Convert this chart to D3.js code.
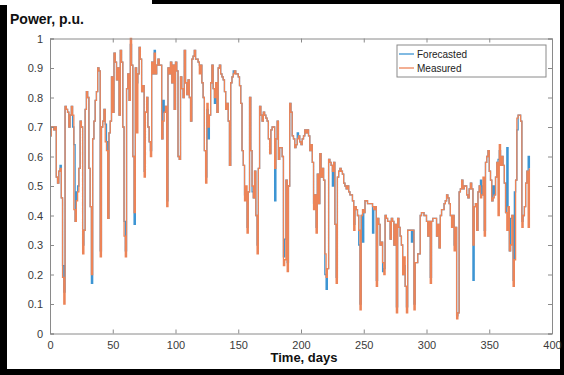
<!DOCTYPE html>
<html>
<head>
<meta charset="utf-8">
<script src="https://cdn.jsdelivr.net/npm/d3@7"></script>
<style>
  html, body { margin: 0; padding: 0; background: #fff; }
  svg { display: block; font-family: "Liberation Sans", Arial, sans-serif; }
</style>
</head>
<body>
<div id="chart"></div>
<script>
// daily power values, p.u.
const measured = [
  0.67, 0.70, 0.70, 0.69, 0.70, 0.53, 0.51, 0.55, 0.56, 0.46,
  0.19, 0.10, 0.77, 0.76, 0.75, 0.70, 0.74, 0.77, 0.74, 0.42,
  0.38, 0.45, 0.48, 0.56, 0.72, 0.70, 0.27, 0.35, 0.76, 0.82,
  0.80, 0.56, 0.43, 0.20, 0.66, 0.72, 0.79, 0.82, 0.90, 0.89,
  0.26, 0.70, 0.72, 0.76, 0.65, 0.62, 0.39, 0.68, 0.72, 0.87,
  0.75, 0.95, 0.92, 0.86, 0.90, 0.74, 0.96, 0.92, 0.70, 0.33,
  0.26, 0.83, 0.88, 0.79, 1.00, 0.91, 0.60, 0.41, 0.90, 0.68,
  0.88, 0.97, 0.93, 0.82, 0.84, 0.53, 0.75, 0.80, 0.70, 0.65,
  0.60, 0.92, 0.88, 0.95, 0.88, 0.91, 0.93, 0.91, 0.91, 0.66,
  0.72, 0.75, 0.77, 0.43, 0.90, 0.88, 0.92, 0.85, 0.91, 0.76,
  0.92, 0.89, 0.60, 0.59, 0.87, 0.83, 0.80, 0.96, 0.85, 0.81,
  0.86, 0.80, 0.72, 0.93, 0.94, 0.96, 0.93, 0.93, 0.92, 0.88,
  0.91, 0.85, 0.80, 0.62, 0.51, 0.78, 0.70, 0.74, 0.85, 0.91,
  0.83, 0.80, 0.85, 0.75, 0.90, 0.91, 0.88, 0.87, 0.86, 0.82,
  0.76, 0.78, 0.72, 0.57, 0.85, 0.87, 0.88, 0.89, 0.88, 0.88,
  0.87, 0.84, 0.78, 0.62, 0.57, 0.45, 0.50, 0.34, 0.48, 0.80,
  0.62, 0.50, 0.46, 0.55, 0.40, 0.27, 0.56, 0.77, 0.74, 0.72,
  0.75, 0.74, 0.73, 0.72, 0.66, 0.61, 0.69, 0.70, 0.70, 0.56,
  0.66, 0.72, 0.59, 0.63, 0.63, 0.60, 0.23, 0.25, 0.52, 0.21,
  0.50, 0.78, 0.75, 0.67, 0.66, 0.63, 0.64, 0.66, 0.67, 0.65,
  0.64, 0.66, 0.67, 0.69, 0.68, 0.69, 0.67, 0.62, 0.64, 0.58,
  0.42, 0.47, 0.34, 0.54, 0.44, 0.61, 0.53, 0.56, 0.52, 0.27,
  0.19, 0.22, 0.59, 0.58, 0.57, 0.55, 0.58, 0.37, 0.17, 0.53,
  0.55, 0.56, 0.55, 0.54, 0.51, 0.50, 0.49, 0.50, 0.48, 0.47,
  0.47, 0.45, 0.35, 0.43, 0.42, 0.40, 0.35, 0.08, 0.40, 0.42,
  0.41, 0.45, 0.45, 0.44, 0.44, 0.44, 0.44, 0.43, 0.42, 0.43,
  0.16, 0.39, 0.37, 0.30, 0.31, 0.24, 0.20, 0.40, 0.39, 0.38,
  0.38, 0.32, 0.39, 0.38, 0.30, 0.37, 0.07, 0.39, 0.36, 0.33,
  0.30, 0.20, 0.26, 0.16, 0.07, 0.35, 0.35, 0.35, 0.35, 0.35,
  0.08, 0.24, 0.24, 0.27, 0.27, 0.40, 0.41, 0.41, 0.40, 0.40,
  0.38, 0.33, 0.38, 0.17, 0.38, 0.39, 0.39, 0.39, 0.33, 0.37,
  0.29, 0.40, 0.42, 0.42, 0.44, 0.45, 0.47, 0.46, 0.44, 0.40,
  0.36, 0.40, 0.28, 0.36, 0.05, 0.07, 0.48, 0.49, 0.52, 0.49,
  0.50, 0.50, 0.47, 0.46, 0.49, 0.51, 0.49, 0.30, 0.43, 0.44,
  0.35, 0.48, 0.50, 0.46, 0.47, 0.53, 0.33, 0.58, 0.60, 0.62,
  0.55, 0.52, 0.45, 0.46, 0.47, 0.53, 0.58, 0.40, 0.64, 0.57,
  0.60, 0.57, 0.51, 0.41, 0.35, 0.43, 0.28, 0.30, 0.40, 0.16,
  0.25, 0.52, 0.73, 0.74, 0.74, 0.72, 0.36, 0.40, 0.43, 0.51,
  0.55, 0.36, 0.56
];

const forecasted = [
  0.67, 0.70, 0.70, 0.69, 0.70, 0.53, 0.51, 0.55, 0.57, 0.46,
  0.23, 0.14, 0.77, 0.76, 0.75, 0.70, 0.74, 0.77, 0.70, 0.64,
  0.38, 0.48, 0.50, 0.56, 0.72, 0.70, 0.30, 0.35, 0.76, 0.82,
  0.80, 0.56, 0.43, 0.17, 0.66, 0.72, 0.79, 0.82, 0.90, 0.89,
  0.28, 0.70, 0.72, 0.76, 0.71, 0.65, 0.39, 0.68, 0.72, 0.87,
  0.75, 0.95, 0.92, 0.86, 0.90, 0.74, 0.96, 0.92, 0.70, 0.38,
  0.28, 0.83, 0.88, 0.79, 0.98, 0.91, 0.60, 0.37, 0.90, 0.85,
  0.88, 0.97, 0.93, 0.82, 0.84, 0.55, 0.75, 0.80, 0.70, 0.65,
  0.62, 0.92, 0.88, 0.96, 0.88, 0.91, 0.93, 0.91, 0.91, 0.66,
  0.79, 0.75, 0.77, 0.45, 0.90, 0.88, 0.92, 0.85, 0.91, 0.76,
  0.92, 0.89, 0.60, 0.59, 0.87, 0.83, 0.80, 0.96, 0.85, 0.81,
  0.86, 0.80, 0.72, 0.93, 0.94, 0.96, 0.93, 0.93, 0.92, 0.91,
  0.91, 0.85, 0.80, 0.62, 0.53, 0.76, 0.66, 0.74, 0.85, 0.91,
  0.83, 0.78, 0.85, 0.75, 0.90, 0.91, 0.88, 0.87, 0.86, 0.82,
  0.76, 0.78, 0.72, 0.57, 0.85, 0.87, 0.89, 0.89, 0.88, 0.88,
  0.87, 0.84, 0.78, 0.62, 0.57, 0.47, 0.46, 0.36, 0.48, 0.80,
  0.62, 0.48, 0.46, 0.55, 0.40, 0.30, 0.56, 0.77, 0.74, 0.72,
  0.75, 0.74, 0.73, 0.72, 0.66, 0.61, 0.69, 0.70, 0.70, 0.45,
  0.66, 0.72, 0.59, 0.63, 0.63, 0.60, 0.26, 0.32, 0.52, 0.24,
  0.50, 0.78, 0.75, 0.67, 0.66, 0.63, 0.64, 0.68, 0.67, 0.65,
  0.64, 0.66, 0.67, 0.69, 0.68, 0.69, 0.67, 0.62, 0.64, 0.58,
  0.44, 0.47, 0.36, 0.54, 0.44, 0.61, 0.53, 0.56, 0.52, 0.20,
  0.15, 0.22, 0.59, 0.58, 0.57, 0.50, 0.58, 0.37, 0.19, 0.53,
  0.55, 0.56, 0.55, 0.54, 0.51, 0.50, 0.49, 0.50, 0.48, 0.47,
  0.47, 0.45, 0.37, 0.43, 0.42, 0.40, 0.30, 0.10, 0.40, 0.31,
  0.41, 0.45, 0.45, 0.44, 0.44, 0.44, 0.44, 0.34, 0.42, 0.43,
  0.18, 0.39, 0.37, 0.30, 0.31, 0.21, 0.22, 0.40, 0.39, 0.38,
  0.38, 0.32, 0.39, 0.38, 0.30, 0.37, 0.09, 0.39, 0.36, 0.33,
  0.30, 0.20, 0.23, 0.16, 0.09, 0.35, 0.35, 0.35, 0.31, 0.35,
  0.10, 0.24, 0.24, 0.27, 0.27, 0.40, 0.41, 0.41, 0.40, 0.40,
  0.38, 0.33, 0.38, 0.19, 0.38, 0.39, 0.39, 0.39, 0.33, 0.37,
  0.29, 0.40, 0.42, 0.42, 0.44, 0.45, 0.47, 0.46, 0.44, 0.40,
  0.36, 0.40, 0.30, 0.36, 0.06, 0.07, 0.48, 0.49, 0.52, 0.49,
  0.50, 0.50, 0.47, 0.46, 0.49, 0.51, 0.49, 0.18, 0.43, 0.44,
  0.35, 0.48, 0.50, 0.52, 0.47, 0.50, 0.35, 0.58, 0.60, 0.62,
  0.55, 0.52, 0.45, 0.50, 0.47, 0.53, 0.58, 0.59, 0.62, 0.57,
  0.60, 0.57, 0.51, 0.41, 0.63, 0.43, 0.28, 0.39, 0.40, 0.18,
  0.48, 0.52, 0.69, 0.74, 0.74, 0.72, 0.38, 0.40, 0.43, 0.51,
  0.55, 0.60, 0.56
];

const xTicks = [0, 50, 100, 150, 200, 250, 300, 350, 400];
const yTicks = [0, 0.1, 0.2, 0.3, 0.4, 0.5, 0.6, 0.7, 0.8, 0.9, 1];
const seriesNames = ["Forecasted", "Measured"];
const seriesColors = ["#3d95d3", "#ec8458"];

const width = 564, height = 375;
const marginLeft = 50, marginRight = 12, marginTop = 38.5, marginBottom = 41.5;

const svg = d3.select("#chart").append("svg")
  .attr("width", width)
  .attr("height", height)
  .attr("viewBox", [0, 0, width, height]);

// black frame around the figure
svg.append("rect").attr("x", 0).attr("y", 5).attr("width", 7).attr("height", height - 5).attr("fill", "#000");
svg.append("rect").attr("x", 0).attr("y", height - 6).attr("width", width).attr("height", 6).attr("fill", "#000");
svg.append("rect").attr("x", width - 4).attr("y", 0).attr("width", 4).attr("height", height).attr("fill", "#000");
svg.append("rect").attr("x", 152).attr("y", 0).attr("width", width - 152).attr("height", 4).attr("fill", "#000");

const x = d3.scaleLinear().domain([0, 400]).range([marginLeft, width - marginRight]);
const y = d3.scaleLinear().domain([0, 1]).range([height - marginBottom, marginTop]);

const line = d3.line()
  .x((d, i) => x(i))
  .y(d => y(d))
  .curve(d3.curveStepAfter);

[forecasted, measured].forEach((s, k) => {
  svg.append("path")
    .datum(s)
    .attr("fill", "none")
    .attr("stroke", seriesColors[k])
    .attr("stroke-width", 1.3)
    .attr("d", line);
});

const axisColor = "#8a8a8a";
const labelColor = "#3a3a3a";

// axes with inward ticks on all four sides (box on)
svg.append("g")
  .attr("transform", `translate(0,${y(0)})`)
  .call(d3.axisBottom(x).tickValues(xTicks).tickSize(-4).tickPadding(8).tickFormat(d3.format("d")))
  .call(g => g.select(".domain").attr("stroke", axisColor))
  .call(g => g.selectAll(".tick line").attr("stroke", axisColor))
  .call(g => g.selectAll(".tick text").attr("fill", labelColor).attr("font-size", 11));

svg.append("g")
  .attr("transform", `translate(0,${y(1)})`)
  .call(d3.axisTop(x).tickValues(xTicks).tickSize(-4).tickFormat(""))
  .call(g => g.select(".domain").attr("stroke", axisColor))
  .call(g => g.selectAll(".tick line").attr("stroke", axisColor));

svg.append("g")
  .attr("transform", `translate(${x(0)},0)`)
  .call(d3.axisLeft(y).tickValues(yTicks).tickSize(-4).tickPadding(7).tickFormat(d => d3.format("")(+d.toFixed(1))))
  .call(g => g.select(".domain").attr("stroke", axisColor))
  .call(g => g.selectAll(".tick line").attr("stroke", axisColor))
  .call(g => g.selectAll(".tick text").attr("fill", labelColor).attr("font-size", 11));

svg.append("g")
  .attr("transform", `translate(${x(400)},0)`)
  .call(d3.axisRight(y).tickValues(yTicks).tickSize(-4).tickFormat(""))
  .call(g => g.select(".domain").attr("stroke", axisColor))
  .call(g => g.selectAll(".tick line").attr("stroke", axisColor));

// axis titles
svg.append("text")
  .attr("x", 10).attr("y", 24)
  .attr("font-size", 14).attr("font-weight", "bold")
  .attr("fill", "#111")
  .text("Power, p.u.");

svg.append("text")
  .attr("x", 304).attr("y", 362)
  .attr("text-anchor", "middle")
  .attr("font-size", 13).attr("font-weight", "bold")
  .attr("fill", "#111")
  .text("Time, days");

// legend
const legend = svg.append("g").attr("transform", "translate(397,45)");
legend.append("rect")
  .attr("width", 149).attr("height", 32)
  .attr("fill", "#fff").attr("stroke", "#8a8a8a");
seriesNames.forEach((name, k) => {
  const ly = 9 + k * 14;
  legend.append("line")
    .attr("x1", 2).attr("x2", 17).attr("y1", ly).attr("y2", ly)
    .attr("stroke", seriesColors[k]).attr("stroke-width", 1.3);
  legend.append("text")
    .attr("x", 20).attr("y", ly + 3.5)
    .attr("font-size", 10).attr("fill", "#222")
    .text(name);
});
</script>
</body>
</html>
